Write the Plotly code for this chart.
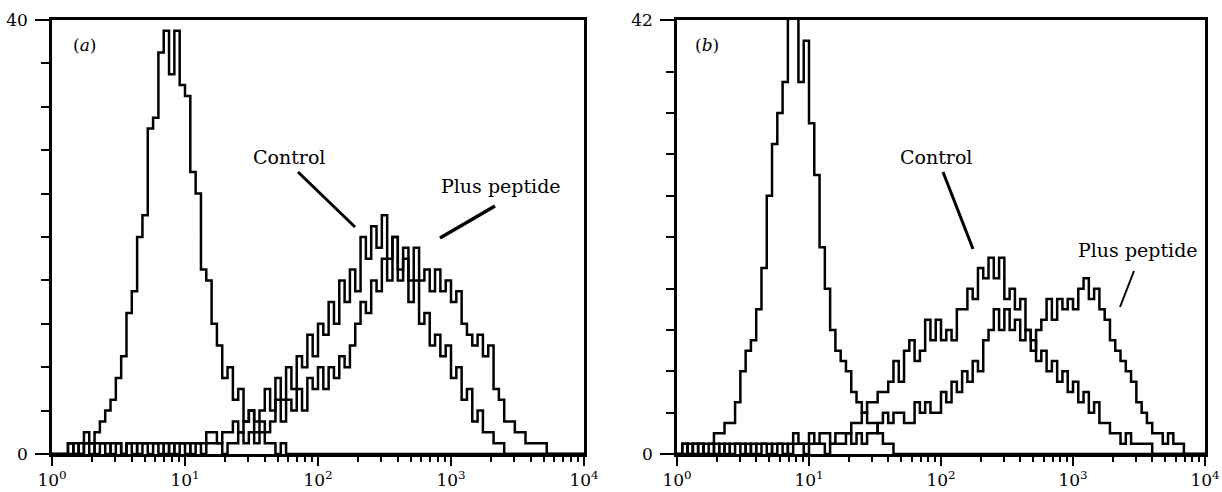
import plotly.graph_objects as go

# Fluorescence channels: log-spaced bins, 0.04 decade wide, from 10^0 to 10^4
BIN_DECADES = 0.04

# ---- Panel (a) counts per channel ----
neg_a = [0, 0, 0, 1, 0, 1, 2, 1, 2, 3,
         4, 5, 7, 9, 13, 15, 20, 22, 30, 31,
         37, 39, 35, 39, 34, 33, 26, 24, 17, 16,
         12, 10, 7, 8, 5, 6, 3, 4, 2, 3,
         1, 1, 0, 1, 0, 0, 0, 0, 0, 0] + [0] * 50

control_a = [0, 0, 0, 0, 1, 0, 1, 0, 1, 1,
             0, 1, 1, 0, 1, 1, 0, 1, 1, 1,
             0, 1, 0, 1, 1, 1, 0, 1, 1, 2,
             2, 1, 2, 2, 3, 2, 3, 4, 3, 4,
             6, 4, 7, 5, 8, 6, 9, 8, 11, 9,
             12, 11, 14, 12, 16, 14, 17, 15, 20, 18,
             21, 19, 22, 18, 20, 16, 18, 14, 16, 12,
             13, 10, 11, 9, 10, 7, 8, 5, 6, 3,
             4, 2, 2, 1, 1, 0, 0, 0, 0, 0,
             0, 0, 0, 0, 0, 0, 0, 0, 0, 0]

peptide_a = [0, 0, 0, 1, 0, 0, 1, 1, 0, 1,
             1, 0, 1, 0, 1, 0, 1, 1, 0, 1,
             1, 0, 1, 0, 1, 0, 1, 1, 0, 1,
             1, 1, 0, 1, 1, 2, 1, 2, 1, 2,
             2, 3, 5, 3, 5, 4, 6, 4, 7, 6,
             8, 6, 8, 7, 9, 8, 10, 12, 14, 13,
             16, 15, 18, 16, 20, 17, 19, 16, 19, 16,
             17, 15, 17, 15, 16, 14, 15, 12, 11, 10,
             11, 9, 10, 6, 5, 3, 3, 2, 2, 1,
             1, 1, 1, 0, 0, 0, 0, 0, 0, 0]

# ---- Panel (b) counts per channel ----
neg_b = [0, 1, 0, 1, 1, 0, 1, 2, 2, 3,
         3, 5, 8, 10, 11, 14, 18, 25, 30, 33,
         36, 43, 44, 36, 40, 32, 27, 20, 16, 12,
         10, 9, 8, 6, 5, 4, 3, 3, 2, 1,
         1, 0, 0, 0, 0, 0, 0, 0, 0, 0] + [0] * 50

control_b = [0, 1, 0, 1, 0, 1, 1, 0, 1, 0,
             1, 1, 0, 1, 0, 1, 1, 0, 1, 1,
             0, 1, 2, 1, 1, 2, 1, 2, 2, 1,
             2, 2, 2, 3, 3, 4, 5, 5, 6, 6,
             7, 9, 7, 10, 11, 9, 10, 13, 11, 13,
             11, 12, 11, 14, 14, 16, 15, 18, 17, 19,
             17, 19, 15, 16, 14, 15, 12, 11, 9, 10,
             8, 9, 7, 8, 6, 7, 5, 6, 4, 5,
             3, 3, 2, 2, 1, 2, 1, 1, 1, 1,
             0, 0, 0, 0, 0, 0, 0, 0, 0, 0]

peptide_b = [0, 0, 1, 0, 1, 0, 0, 1, 0, 1,
             0, 1, 1, 0, 1, 0, 1, 1, 0, 1,
             1, 0, 1, 1, 0, 1, 1, 1, 0, 1,
             1, 1, 2, 1, 2, 1, 2, 2, 3, 4,
             3, 4, 4, 3, 3, 5, 4, 5, 4, 4,
             6, 5, 7, 6, 8, 7, 9, 8, 11, 12,
             14, 12, 14, 12, 13, 11, 12, 10, 12, 13,
             15, 13, 15, 14, 15, 14, 16, 17, 15, 16,
             14, 13, 11, 10, 9, 8, 7, 5, 4, 3,
             2, 2, 1, 2, 1, 1, 0, 0, 0, 0]

x_major = [1, 10, 100, 1000, 10000]
x_major_text = ["10<sup>0</sup>", "10<sup>1</sup>", "10<sup>2</sup>", "10<sup>3</sup>", "10<sup>4</sup>"]
x_minor = [m * d for d in (1, 10, 100, 1000) for m in range(2, 10)]

ya_major = [0, 40]
ya_minor = [4, 8, 12, 16, 20, 24, 28, 32, 36]
yb_major = [0, 42]
yb_minor = [4, 8, 12, 16, 21, 25, 29, 33, 37]

panel_labels = ["(<i>a</i>)", "(<i>b</i>)"]
series_labels = ["Control", "Plus peptide"]

W, H = 1222, 492
FONT = "DejaVu Serif"


def step_xy(counts):
    xs = [10 ** (i * BIN_DECADES) for i in range(len(counts) + 1)]
    ys = list(counts) + [counts[-1]]
    return xs, ys


fig = go.Figure()
for counts, xa, ya in [(neg_a, "x", "y"), (control_a, "x", "y"), (peptide_a, "x", "y"),
                       (neg_b, "x2", "y2"), (control_b, "x2", "y2"), (peptide_b, "x2", "y2")]:
    xs, ys = step_xy(counts)
    fig.add_trace(go.Scatter(x=xs, y=ys, mode="lines", line_shape="hv",
                             line=dict(color="black", width=2.5),
                             xaxis=xa, yaxis=ya, showlegend=False, hoverinfo="skip"))


def px(x):
    return x / W


def py(y):
    return 1 - y / H


ydom = [py(454), py(20)]


def xaxis(dom):
    return dict(domain=dom, type="log", range=[0, 4], showline=True, linecolor="black",
                linewidth=2.5, mirror=True, ticks="outside", ticklen=9, tickwidth=2,
                tickcolor="black", tickvals=x_major, ticktext=x_major_text,
                tickfont=dict(family=FONT, size=17, color="black"), ticklabelstandoff=0,
                showgrid=False, zeroline=False, automargin=False,
                minor=dict(tickvals=x_minor, ticks="outside", ticklen=5, tickwidth=1.5,
                           tickcolor="black", showgrid=False))


def yaxis(rng, major, minor):
    return dict(domain=ydom, range=rng, showline=True, linecolor="black", linewidth=2.5,
                mirror=True, ticks="outside", ticklen=14, tickwidth=2, tickcolor="black",
                tickvals=major, ticktext=[str(v) for v in major],
                tickfont=dict(family=FONT, size=17, color="black"), ticklabelstandoff=4,
                showgrid=False, zeroline=False, automargin=False,
                minor=dict(tickvals=minor, ticks="outside", ticklen=8, tickwidth=2,
                           tickcolor="black", showgrid=False))


fig.update_layout(
    width=W, height=H, margin=dict(l=0, r=0, t=0, b=0),
    paper_bgcolor="white", plot_bgcolor="white", template="none",
    xaxis=xaxis([px(52), px(584)]),
    yaxis=yaxis([0, 40], ya_major, ya_minor),
    xaxis2=dict(xaxis([px(677), px(1205)]), anchor="y2"),
    yaxis2=dict(yaxis([0, 42], yb_major, yb_minor), anchor="x2"),
)

annots = [
    (84, 45, panel_labels[0], 17),
    (707, 45, panel_labels[1], 17),
    (289, 157, series_labels[0], 19),
    (501, 186, series_labels[1], 19),
    (936, 157, series_labels[0], 19),
    (1138, 250, series_labels[1], 19),
]
for x, y, t, s in annots:
    fig.add_annotation(x=px(x), y=py(y), xref="paper", yref="paper", text=t, showarrow=False,
                       xanchor="center", yanchor="middle",
                       font=dict(family=FONT, size=s, color="black"))

pointers = [
    ((298, 172), (355, 227), 3),
    ((495, 206), (440, 238), 3.5),
    ((943, 172), (973, 249), 3),
    ((1134, 271), (1120, 307), 2),
]
for (x0, y0), (x1, y1), w in pointers:
    fig.add_shape(type="line", xref="paper", yref="paper", x0=px(x0), y0=py(y0),
                  x1=px(x1), y1=py(y1), line=dict(color="black", width=w))

fig.write_html("out.html", config={"displayModeBar": False},
               post_script="document.body.style.margin='0';document.body.style.overflow='hidden';")
